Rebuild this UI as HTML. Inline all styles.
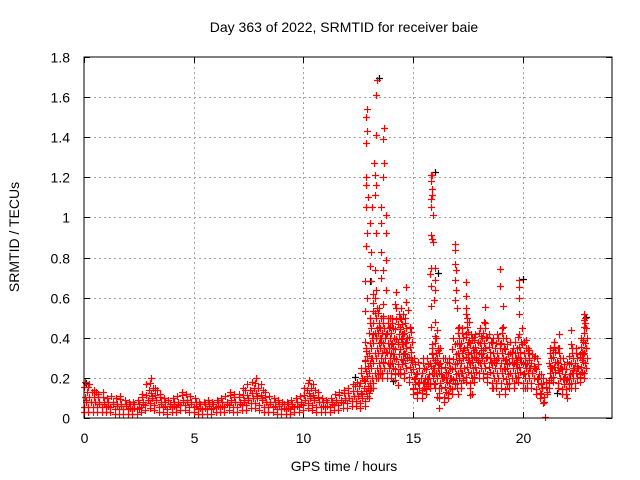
<!DOCTYPE html>
<html><head><meta charset="utf-8"><style>
html,body{margin:0;padding:0;background:#fff;}
svg{display:block;font-family:"Liberation Sans",sans-serif;}
</style></head><body>
<svg id="chart" width="640" height="480" viewBox="0 0 640 480" xmlns="http://www.w3.org/2000/svg">
<rect x="0" y="0" width="640" height="480" fill="#fff"/>
<text x="344" y="32" text-anchor="middle" font-size="14" fill="#000">Day 363 of 2022, SRMTID for receiver baie</text>
<text x="344" y="471" text-anchor="middle" font-size="14" fill="#000">GPS time / hours</text>
<text transform="translate(19,237) rotate(-90)" text-anchor="middle" font-size="14" fill="#000">SRMTID / TECUs</text>
<g id="grid"></g>
<g id="ticks"></g>
<g id="marks"></g>
<rect x="84" y="57" width="528" height="361" fill="none" stroke="#000" stroke-width="1"/>
</svg>
<script>
const xTicks = [0, 5, 10, 15, 20];
const yTicks = [0, 0.2, 0.4, 0.6, 0.8, 1, 1.2, 1.4, 1.6, 1.8];
const yTickLabels = ["0", "0.2", "0.4", "0.6", "0.8", "1", "1.2", "1.4", "1.6", "1.8"];
const bandStart = 0;
const bandStep = 0.2;
const bandLo = [0.03,0.03,0.03,0.03,0.03,0.03,0.03,0.02,0.02,0.02,0.02,0.02,0.02,0.03,0.04,0.05,0.04,0.03,0.03,0.02,0.03,0.03,0.04,0.04,0.03,0.03,0.02,0.02,0.02,0.02,0.03,0.03,0.03,0.04,0.03,0.03,0.04,0.04,0.05,0.05,0.04,0.03,0.03,0.03,0.02,0.02,0.02,0.02,0.03,0.03,0.04,0.05,0.04,0.03,0.03,0.03,0.03,0.04,0.04,0.05,0.05,0.06,0.06,
0.05,0.06,0.1,0.15,0.2,0.2,0.2,0.2,0.22,0.22,0.2,0.18,0.12,0.1,0.1,0.12,0.15,0.15,0.1,0.08,0.1,0.12,0.15,0.15,0.18,0.15,0.18,0.2,0.2,0.18,0.15,0.15,0.15,0.12,0.15,0.15,0.18,0.15,0.15,0.15,0.12,0.1,0.08,0.15,0.18,0.15,0.12,0.12,0.15,0.15,0.18,0.2];
const bandMid = [0.09,0.08,0.08,0.07,0.07,0.06,0.07,0.06,0.06,0.06,0.05,0.05,0.05,0.07,0.09,0.11,0.09,0.07,0.06,0.06,0.06,0.07,0.08,0.08,0.07,0.06,0.05,0.05,0.06,0.05,0.06,0.06,0.07,0.08,0.08,0.07,0.08,0.1,0.1,0.11,0.1,0.08,0.07,0.06,0.06,0.05,0.05,0.06,0.06,0.07,0.09,0.11,0.1,0.08,0.06,0.06,0.07,0.08,0.08,0.09,0.1,0.11,0.11,
0.12,0.2,0.3,0.4,0.4,0.35,0.35,0.35,0.38,0.4,0.38,0.3,0.2,0.18,0.18,0.2,0.25,0.28,0.22,0.2,0.2,0.25,0.3,0.3,0.32,0.28,0.3,0.32,0.35,0.3,0.28,0.3,0.3,0.25,0.28,0.27,0.3,0.27,0.25,0.25,0.2,0.15,0.12,0.25,0.28,0.25,0.2,0.2,0.25,0.25,0.3,0.35];
const bandHi = [0.18,0.17,0.14,0.12,0.13,0.1,0.11,0.1,0.11,0.09,0.08,0.08,0.09,0.12,0.17,0.2,0.15,0.12,0.1,0.09,0.1,0.11,0.13,0.12,0.11,0.1,0.08,0.08,0.09,0.08,0.09,0.1,0.11,0.13,0.12,0.12,0.15,0.17,0.18,0.2,0.17,0.13,0.11,0.1,0.09,0.08,0.08,0.09,0.1,0.11,0.15,0.19,0.17,0.13,0.1,0.09,0.1,0.12,0.13,0.14,0.15,0.17,0.18,
0.25,0.35,0.5,0.6,0.55,0.5,0.5,0.5,0.55,0.55,0.5,0.45,0.3,0.28,0.3,0.3,0.35,0.4,0.35,0.3,0.3,0.4,0.45,0.45,0.5,0.42,0.42,0.45,0.48,0.42,0.4,0.42,0.45,0.4,0.38,0.38,0.42,0.38,0.35,0.32,0.3,0.22,0.18,0.35,0.38,0.35,0.3,0.28,0.35,0.35,0.4,0.5];
const scatterT = [13.36,13.33,12.91,12.85,12.91,13.33,13.68,13.64,12.85,13.22,13.68,12.88,13.26,13.64,12.88,13.33,13.26,12.94,12.88,13.15,13.56,13.76,13.03,13.56,12.91,13.31,13.76,12.85,13.11,13.56,13.79,13.03,13.26,13.64,12.82,13.11,13.56,13.33,13.79,12.91,13.18,13.64,14.25,14.70,14.70,14.18,12.82,13.18,13.64,13.94,14.40,14.78,13.03,13.45,13.94,14.40,14.85,13.18,13.79,14.48,12.82,13.56,14.02,14.55,13.79,14.09,14.63,12.82,13.64,13.94,14.55,14.93,12.82,13.48,14.32,14.17,14.32,12.76,13.06,
15.84,15.89,15.82,15.89,15.89,15.82,15.84,15.91,15.82,15.91,15.87,15.82,16.0,15.8,16.0,15.82,16.0,15.82,15.98,15.84,16.02,16.1,16.0,15.87,16.13,15.87,16.03,15.82,16.17,15.98,16.32,16.17,15.95,16.1,16.17,15.0,15.2,15.4,15.6,
16.9,16.9,16.94,16.95,16.94,16.95,16.9,17.0,17.43,17.43,17.43,17.4,17.45,17.1,17.4,17.1,17.5,17.3,17.1,17.5,17.2,17.3,16.85,17.2,17.05,17.6,17.8,17.8,
18.95,18.98,19.1,19.1,18.95,19.2,19.86,19.83,19.82,19.83,19.96,19.96,19.75,18.27,18.27,18.1,18.2,17.98,18.4,18.66,17.7,18.94,18.8,19.5,18.6,20.17,20.31,20.3,20.0,20.1,20.55,20.5,20.86,20.86,20.95,21.03,21.23,21.38,21.44,21.66,21.6,21.2,21.6,22.0,22.1,22.05,22.2,22.2,22.1,22.3,22.6,22.5,22.6,22.82,22.82,22.82,22.75,22.75,22.7];
const scatterV = [1.686,1.61,1.54,1.50,1.43,1.41,1.445,1.39,1.37,1.27,1.27,1.20,1.21,1.20,1.16,1.16,1.11,1.10,1.05,1.05,1.05,1.01,0.97,0.97,0.92,0.92,0.92,0.86,0.83,0.83,0.79,0.76,0.74,0.74,0.685,0.685,0.70,0.64,0.64,0.60,0.62,0.57,0.63,0.655,0.58,0.57,0.535,0.535,0.51,0.50,0.50,0.54,0.50,0.455,0.455,0.455,0.455,0.42,0.42,0.42,0.38,0.38,0.37,0.37,0.33,0.32,0.32,0.29,0.28,0.27,0.29,0.29,0.25,0.22,0.225,0.19,0.165,0.19,0.14,
1.21,1.21,1.18,1.14,1.11,1.09,1.05,1.01,0.91,0.88,0.895,0.75,0.75,0.72,0.69,0.66,0.64,0.56,0.59,0.455,0.48,0.44,0.41,0.37,0.34,0.32,0.29,0.26,0.27,0.225,0.20,0.15,0.17,0.105,0.05,0.15,0.13,0.14,0.16,
0.87,0.84,0.77,0.74,0.69,0.64,0.59,0.55,0.68,0.61,0.55,0.52,0.48,0.455,0.42,0.37,0.38,0.34,0.29,0.29,0.225,0.19,0.19,0.15,0.12,0.115,0.39,0.34,
0.745,0.66,0.56,0.455,0.37,0.29,0.69,0.655,0.60,0.52,0.45,0.37,0.29,0.555,0.475,0.41,0.34,0.29,0.22,0.15,0.12,0.12,0.29,0.33,0.38,0.39,0.34,0.29,0.22,0.15,0.31,0.26,0.17,0.12,0.075,0.005,0.26,0.34,0.38,0.42,0.35,0.19,0.24,0.19,0.15,0.10,0.44,0.37,0.31,0.24,0.32,0.26,0.22,0.52,0.49,0.455,0.39,0.32,0.29];
const blackT = [13.4,15.95,13.0,19.95,12.3,0.05,22.85,14.05,21.5,16.1];
const blackV = [1.69,1.22,0.68,0.69,0.2,0.17,0.5,0.18,0.12,0.72];

const X0 = 84, X1 = 612, Y0 = 418, Y1 = 57;
const xMax = 24.08, yMax = 1.8;
function xScale(t){ return X0 + t / xMax * (X1 - X0); }
function yScale(v){ return Y0 - v / yMax * (Y0 - Y1); }
const NS = "http://www.w3.org/2000/svg";
const grid = document.getElementById('grid');
const ticks = document.getElementById('ticks');
const marks = document.getElementById('marks');

xTicks.forEach(function(t){
  const x = Math.round(xScale(t)) + 0.5;
  if (t > 0) {
    const g = document.createElementNS(NS,'line');
    g.setAttribute('x1',x);g.setAttribute('x2',x);g.setAttribute('y1',Y1);g.setAttribute('y2',Y0);
    g.setAttribute('stroke','#a0a0a0');g.setAttribute('stroke-dasharray','2,3');
    
    
    grid.appendChild(g);
  }
  const tk = document.createElementNS(NS,'path');
  tk.setAttribute('d','M'+x+' '+Y0+'v-6M'+x+' '+Y1+'v6');
  tk.setAttribute('stroke','#000');
  
  
  ticks.appendChild(tk);
  const lb = document.createElementNS(NS,'text');
  lb.setAttribute('x',x);lb.setAttribute('y',443);lb.setAttribute('text-anchor','middle');lb.setAttribute('font-size','14');
  lb.textContent = String(t);
  
  
  ticks.appendChild(lb);
});
yTicks.forEach(function(v,i){
  const y = Math.round(yScale(v)) + 0.5;
  if (v > 0 && v < yMax) {
    const g = document.createElementNS(NS,'line');
    g.setAttribute('x1',X0);g.setAttribute('x2',X1);g.setAttribute('y1',y);g.setAttribute('y2',y);
    g.setAttribute('stroke','#a0a0a0');g.setAttribute('stroke-dasharray','2,3');
    
    
    grid.appendChild(g);
  }
  const tk = document.createElementNS(NS,'path');
  tk.setAttribute('d','M'+X0+' '+y+'h6M'+X1+' '+y+'h-6');
  tk.setAttribute('stroke','#000');
  
  
  ticks.appendChild(tk);
  const lb = document.createElementNS(NS,'text');
  lb.setAttribute('x',70);lb.setAttribute('y',y+5);lb.setAttribute('text-anchor','end');lb.setAttribute('font-size','14');
  lb.textContent = yTickLabels[i];
  
  
  ticks.appendChild(lb);
});

function plus(t, v, color, name){
  const x = Math.round(xScale(t)) + 0.5, y = Math.round(yScale(v)) + 0.5;
  const p = document.createElementNS(NS,'path');
  p.setAttribute('d','M'+(x-3.5)+' '+y+'h7M'+x+' '+(y-3.5)+'v7');
  p.setAttribute('stroke',color);
  p.setAttribute('stroke-width','1.2');
  
  
  marks.appendChild(p);
}
blackT.forEach(function(t,i){ plus(t + 0.05, blackV[i] + 0.005, '#000', 'black-point'); });
const pxStep = 5;
bandLo.forEach(function(v,i){
  const t = bandStart + i * bandStep;
  plus(t, v, '#ff0000', 'band-low-point');
  plus(t + 0.1, bandMid[i], '#ff0000', 'band-mid-point');
  plus(t + 0.05, bandHi[i], '#ff0000', 'band-high-point');
  // fill the observed range between low and high with crosses
  const yLo = yScale(v), yHi = yScale(bandHi[i]);
  let k = 0;
  for (let y = yLo - pxStep; y > yHi + 2; y -= pxStep) {
    const vv = (Y0 - y) / (Y0 - Y1) * yMax;
    const dt = [0.0, 0.1, 0.05, 0.15][k % 4];
    plus(t + dt, vv, '#ff0000', 'band-range-point');
    k++;
  }
});
scatterT.forEach(function(t,i){ plus(t, scatterV[i], '#ff0000', 'scatter-point'); });
</script>
</body></html>
